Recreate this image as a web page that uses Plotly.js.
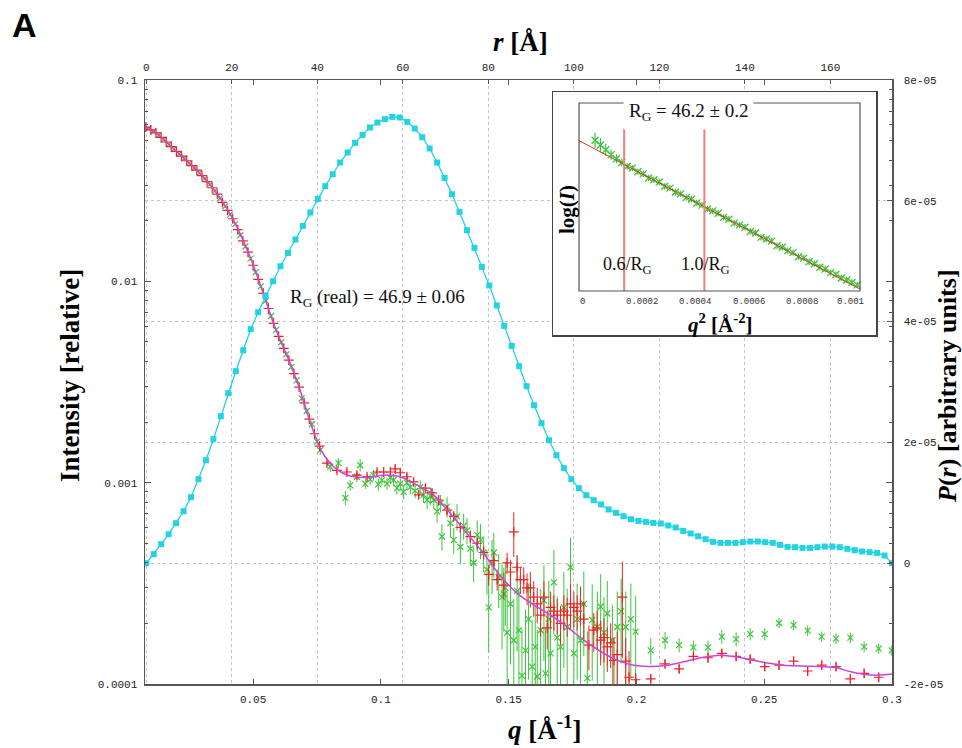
<!DOCTYPE html>
<html><head><meta charset="utf-8">
<script src="https://cdn.plot.ly/plotly-3.0.1.min.js"></script>
<style>html,body{margin:0;padding:0;background:#fff}#chart{width:962px;height:748px}</style>
</head><body><div id="chart"></div>
<script>
// ---------- Scattering data (q in 1/Å, intensity relative) ----------
const redQLow = [0.008,0.010,0.012,0.014,0.016,0.018,0.020,0.022,0.024,0.026,0.028,0.030,0.032,0.034,0.036,0.038,0.040,0.042,0.044,0.046,0.048,0.050,0.052,0.054,0.056,0.058,0.060,0.062,0.064,0.066,0.068,0.070,0.072,0.074,0.076];
const redILow = [0.05834,0.05649,0.05458,0.05188,0.04920,0.04667,0.04416,0.04188,0.03972,0.03758,0.03565,0.03350,0.03126,0.02917,0.02710,0.02466,0.02249,0.02046,0.01807,0.01589,0.01396,0.01202,0.01023,0.00871,0.00733,0.00618,0.00533,0.00465,0.00406,0.00348,0.00298,0.00249,0.00207,0.00175,0.00152];
const redRelLow = [0.01,0.01,0.01,0.01,0.01,0.01,0.01,0.01,0.01,0.01,0.01,0.01,0.01,0.01,0.01,0.01,0.01,0.01,0.01,0.01,0.015,0.015,0.015,0.015,0.015,0.015,0.015,0.015,0.02,0.02,0.02,0.02,0.02,0.02,0.02];

const redQMid = [0.0789,0.0828,0.0867,0.0906,0.0946,0.0985,0.1011,0.1037,0.1056,0.1076,0.1102,0.1128,0.1148,0.1174,0.1200,0.1226,0.1259,0.1285,0.1311,0.1350,0.1377,0.1402,0.1422,0.1442,0.1455,0.1481,0.1494,0.1507,0.1520,0.1533,0.1546,0.1559,0.1572,0.1585,0.1598,0.1612,0.1625,0.1638,0.1651,0.1664,0.1677,0.1690,0.1703,0.1716,0.1729,0.1742,0.1755,0.1768,0.1781,0.1794,0.1814,0.1833,0.1846,0.1860,0.1873,0.1886,0.1899,0.1912,0.1925,0.1945,0.1958,0.1971,0.1997];
const redIMid = [0.00125,0.00115,0.00113,0.00109,0.00107,0.00113,0.00113,0.00113,0.00117,0.00112,0.00107,0.00101,0.00087,0.00094,0.00089,0.00082,0.00073,0.00068,0.00060,0.00054,0.00050,0.00045,0.00035,0.00041,0.00033,0.00031,0.00040,0.00036,0.00057,0.00038,0.00033,0.00033,0.00030,0.00030,0.00027,0.00025,0.00022,0.00027,0.00019,0.00024,0.00023,0.00022,0.00020,0.00023,0.00022,0.00025,0.00024,0.00023,0.00025,0.00021,0.000156,0.000185,0.00019,0.000165,0.00017,0.000153,0.00016,0.000131,0.00014,0.00027,0.00013,0.000108,0.000105];
const redRelMid = [0.03,0.03,0.03,0.03,0.03,0.03,0.03,0.03,0.04,0.035,0.035,0.04,0.05,0.04,0.045,0.05,0.05,0.06,0.06,0.07,0.07,0.08,0.12,0.1,0.12,0.15,0.12,0.15,0.25,0.15,0.15,0.15,0.18,0.2,0.2,0.2,0.22,0.2,0.22,0.2,0.2,0.2,0.22,0.2,0.22,0.25,0.2,0.2,0.22,0.22,0.25,0.22,0.22,0.25,0.25,0.25,0.25,0.3,0.3,0.5,0.3,0.35,0.08];

const redQHigh = [0.2056,0.2112,0.2167,0.2223,0.2280,0.2334,0.2390,0.2445,0.2502,0.2558,0.2615,0.2670,0.2725,0.2781,0.2837,0.2891,0.2948];
const redIHigh = [0.000106,0.000126,0.000119,0.000137,0.000135,0.000142,0.000137,0.000133,0.000122,0.000124,0.000130,0.000116,0.000124,0.000122,0.000106,0.000113,0.000108];
const redRelHigh = [0.05,0.05,0.05,0.05,0.05,0.05,0.05,0.05,0.05,0.05,0.05,0.05,0.05,0.05,0.05,0.05,0.05];

const greenQLow = [0.009,0.011,0.013,0.015,0.017,0.019,0.021,0.023,0.025,0.027,0.029,0.031,0.033,0.035,0.037,0.039,0.041,0.043,0.045,0.047,0.049,0.051,0.053,0.055,0.057,0.059,0.061,0.063,0.065,0.067,0.069,0.071,0.073,0.075];
const greenILow = [0.05741,0.05552,0.05321,0.05052,0.04792,0.04539,0.04300,0.04078,0.03864,0.03660,0.03454,0.03236,0.03020,0.02812,0.02585,0.02355,0.02145,0.01923,0.01694,0.01489,0.01296,0.01109,0.00944,0.00799,0.00673,0.00574,0.00498,0.00434,0.00376,0.00322,0.00262,0.00227,0.00195,0.00160];
const greenRelLow = [0.015,0.015,0.015,0.015,0.015,0.015,0.015,0.015,0.015,0.015,0.015,0.015,0.015,0.015,0.015,0.015,0.015,0.02,0.02,0.02,0.02,0.02,0.02,0.025,0.025,0.025,0.025,0.03,0.03,0.03,0.035,0.035,0.04,0.04];

const greenQMid = [0.0763,0.0802,0.0834,0.0861,0.0880,0.0906,0.0919,0.0939,0.0958,0.0971,
 0.0990,0.1004,0.1024,0.1037,0.1050,0.1063,0.1076,0.1089,0.1102,0.1115,
 0.1134,0.1154,0.1167,0.1181,0.1194,0.1207,0.1220,0.1233,0.1239,0.1259,
 0.1272,0.1285,0.1298,0.1311,0.1324,0.1337,0.1350,0.1363,0.1377,0.1390,
 0.1402,0.1415,0.1422,0.1435,0.1442,0.1461,0.1474,0.1481,0.1487,0.1494,
 0.1507,0.1520,0.1533,0.1540,0.1552,0.1566,0.1578,0.1592,0.1604,0.1612,
 0.1625,0.1638,0.1644,0.1657,0.1664,0.1677,0.1690,0.1703,0.1716,0.1729,
 0.1742,0.1755,0.1768,0.1781,0.1794,0.1808,0.1827,0.1847,0.1860,0.1873,
 0.1886,0.1906,0.1925,0.1940,0.1958,0.1978,0.1997];
const greenIMid = [0.00145,0.00120,0.00125,0.00084,0.00097,0.00107,0.00122,0.00099,0.00104,0.00109,
 0.00098,0.00103,0.00099,0.00106,0.00103,0.00094,0.00099,0.00090,0.00100,0.00095,
 0.00091,0.00095,0.00087,0.00082,0.00086,0.00082,0.00072,0.00079,0.00054,0.00076,
 0.00063,0.00052,0.00068,0.00048,0.00061,0.00058,0.00047,0.00040,0.00055,0.00052,
 0.00045,0.00037,0.00024,0.00040,0.00045,0.00034,0.00027,0.00028,0.00030,0.00018,
 0.00025,0.000165,0.00029,0.000185,0.00011,0.000147,0.00021,0.000122,0.000153,0.000109,
 0.000185,0.00026,0.000113,0.00021,0.000142,0.00032,0.00017,0.000153,0.00024,0.000192,
 0.00038,0.000142,0.00021,0.000165,0.00025,0.000107,0.000208,0.000192,0.000242,0.00018,
 0.000224,0.000165,0.000192,0.00023,0.000192,0.00021,0.000182];
const greenRelMid = [0.05,0.06,0.06,0.08,0.06,0.06,0.07,0.06,0.06,0.06,
 0.07,0.06,0.07,0.07,0.07,0.07,0.08,0.08,0.08,0.08,
 0.08,0.08,0.09,0.1,0.1,0.1,0.12,0.1,0.15,0.12,
 0.15,0.15,0.15,0.18,0.15,0.15,0.18,0.2,0.18,0.2,
 0.2,0.25,0.4,0.3,0.25,0.3,0.45,0.35,0.35,0.6,
 0.5,0.6,0.5,0.6,0.7,0.6,0.5,0.7,0.6,0.7,
 0.6,0.5,0.7,0.55,0.6,0.45,0.6,0.6,0.5,0.55,
 0.4,0.6,0.5,0.55,0.45,0.7,0.5,0.5,0.45,0.5,
 0.45,0.5,0.5,0.45,0.5,0.5,0.5];

const greenQHigh = [0.2056,0.2112,0.2167,0.2223,0.2280,0.2334,0.2390,0.2445,0.2502,0.2558,0.2615,0.2670,0.2725,0.2781,0.2837,0.2891,0.2948,0.2999];
const greenIHigh = [0.000147,0.000165,0.000156,0.000152,0.000152,0.000172,0.000167,0.000177,0.000177,0.000201,0.000196,0.000184,0.000172,0.000168,0.000170,0.000153,0.000150,0.000147];
const greenRelHigh = [0.15,0.1,0.08,0.08,0.08,0.08,0.08,0.07,0.07,0.06,0.06,0.06,0.06,0.06,0.06,0.06,0.06,0.06];

// Fitted intensity curve
const fitQ = [0.0077,0.0123,0.0201,0.0292,0.0358,0.0423,0.0488,0.0540,0.0580,0.0606,0.0645,0.0684,0.0717,0.0750,0.0776,0.0815,0.0854,0.0880,0.0946,0.1011,0.1076,0.1141,0.1207,0.1272,0.1337,0.1402,0.1468,0.1533,0.1598,0.1664,0.1729,0.1794,0.1860,0.1925,0.1990,0.2056,0.2121,0.2186,0.2252,0.2330,0.2395,0.2447,0.2513,0.2578,0.2643,0.2709,0.2774,0.2839,0.2905,0.2970,0.3000];
const fitI = [0.0586,0.0543,0.0441,0.0344,0.0274,0.0202,0.01325,0.00871,0.00618,0.00511,0.00392,0.00288,0.00212,0.00162,0.00138,0.00120,0.00111,0.00108,0.00106,0.00109,0.00107,0.000972,0.000867,0.000703,0.00056,0.000445,0.000344,0.000282,0.000247,0.00022,0.000192,0.000165,0.000145,0.000131,0.000124,0.000122,0.000124,0.000129,0.000135,0.000139,0.000136,0.000132,0.000127,0.000124,0.000123,0.000122,0.000121,0.000115,0.000111,0.000111,0.000112];

// ---------- Pair distance distribution P(r) ----------
const prR = [0,1.74,3.49,5.23,6.98,8.72,10.46,12.21,13.95,15.70,17.44,19.18,20.93,22.67,24.42,26.16,27.90,29.65,31.39,33.14,34.88,36.62,38.37,40.11,41.86,43.60,45.34,47.09,48.83,50.58,52.32,54.06,55.81,57.55,59.30,61.04,62.78,64.53,66.27,68.02,69.76,71.50,73.25,74.99,76.74,78.48,80.22,81.97,83.71,85.46,87.20,88.94,90.69,92.43,94.18,95.92,97.66,99.41,101.15,102.90,104.64,106.38,108.13,109.87,111.62,113.36,115.10,116.85,118.59,120.34,122.08,123.82,125.57,127.31,129.06,130.80,132.54,134.29,136.03,137.78,139.52,141.26,143.01,144.75,146.50,148.24,149.98,151.73,153.47,155.22,156.96,158.70,160.45,162.19,163.94,165.68,167.42,169.17,170.91,172.66,174.40];
// P(r) in units of 1e-5
const prP = [0,0.149,0.315,0.480,0.662,0.861,1.093,1.391,1.705,2.053,
 2.434,2.815,3.179,3.526,3.874,4.156,4.421,4.669,4.917,5.137,
 5.359,5.584,5.806,6.031,6.242,6.440,6.634,6.800,6.959,7.091,
 7.214,7.296,7.351,7.389,7.379,7.306,7.197,7.053,6.866,6.634,
 6.379,6.109,5.816,5.513,5.220,4.906,4.598,4.267,3.929,3.598,
 3.262,2.930,2.616,2.318,2.036,1.788,1.573,1.391,1.242,1.126,
 1.043,0.972,0.889,0.833,0.778,0.728,0.700,0.684,0.667,0.657,
 0.624,0.591,0.535,0.492,0.447,0.397,0.353,0.336,0.336,0.336,
 0.348,0.359,0.359,0.348,0.336,0.303,0.270,0.265,0.253,0.253,
 0.265,0.276,0.276,0.265,0.237,0.215,0.194,0.182,0.171,0.127,
 0];

// ---------- Guinier inset ----------
const insetQ2 = [0.00006,0.00008,0.00010,0.00012,0.00014,0.00016,0.00018,0.00020,0.00022,0.00024,0.00026,0.00028,0.00030,0.00032,0.00034,0.00036,0.00038,0.00040,0.00042,0.00044,0.00046,0.00048,0.00050,0.00052,0.00054,0.00056,0.00058,0.00060,0.00062,0.00064,0.00066,0.00068,0.00070,0.00072,0.00074,0.00076,0.00078,0.00080,0.00082,0.00084,0.00086,0.00088,0.00090,0.00092,0.00094,0.00096,0.00098,0.00100,0.00102,0.00104];
const insetLnI = [-2.798,-2.822,-2.846,-2.871,-2.892,-2.911,-2.931,-2.939,-2.957,-2.968,-2.989,-2.998,-3.009,-3.031,-3.040,-3.061,-3.069,-3.088,-3.096,-3.115,-3.126,-3.146,-3.155,-3.167,-3.188,-3.197,-3.217,-3.227,-3.238,-3.259,-3.267,-3.289,-3.297,-3.308,-3.331,-3.339,-3.356,-3.366,-3.387,-3.394,-3.412,-3.422,-3.440,-3.449,-3.467,-3.477,-3.494,-3.504,-3.517,-3.529];
const insetErr = [0.038,0.034,0.03,0.026,0.022,0.019,0.016,0.016,0.016,0.016,0.016,0.016,0.016,0.016,0.016,0.016,0.016,0.016,0.016,0.016,0.016,0.016,0.016,0.016,0.016,0.016,0.016,0.016,0.016,0.016,0.016,0.016,0.016,0.016,0.016,0.016,0.016,0.016,0.016,0.016,0.016,0.016,0.016,0.016,0.016,0.016,0.016,0.016,0.016,0.016];
const guinierQ2 = [0, 0.00105];
const guinierLnI = [-2.80, -3.55];
const limitQ2 = [0.0001687, 0.0004685];   // (0.6/Rg)^2 and (1.0/Rg)^2
const limitLabels = ['0.6/R<sub>G</sub>', '1.0/R<sub>G</sub>'];
const insetTickVals = [0, 0.0002, 0.0004, 0.0006, 0.0008, 0.001];
const insetTickText = ['0', '0.0002', '0.0004', '0.0006', '0.0008', '0.001'];

// tick labels
const qTicks = [0.05, 0.1, 0.15, 0.2, 0.25, 0.3];
const qTickText = ['0.05', '0.1', '0.15', '0.2', '0.25', '0.3'];
const iTicks = [0.0001, 0.001, 0.01, 0.1];
const iTickText = ['0.0001', '0.001', '0.01', '0.1'];
const rTicks = [0, 20, 40, 60, 80, 100, 120, 140, 160];
const pTicks = [-2e-5, 0, 2e-5, 4e-5, 6e-5, 8e-5];
const pTickText = ['-2e-05', '0', '2e-05', '4e-05', '6e-05', '8e-05'];

// ---------- build ----------
const RED = '#ee2222', GREEN = '#3cc43c', MAG = '#cc44dd', CYAN = '#22d3e2', AX = '#555555';
const redQ = redQLow.concat(redQMid, redQHigh);
const redI = redILow.concat(redIMid, redIHigh);
const redRel = redRelLow.concat(redRelMid, redRelHigh);
const greenQ = greenQLow.concat(greenQMid, greenQHigh);
const greenI = greenILow.concat(greenIMid, greenIHigh);
const greenRel = greenRelLow.concat(greenRelMid, greenRelHigh);
const redErr = redI.map((v, i) => v * redRel[i]);
const greenErr = greenI.map((v, i) => v * greenRel[i]);
const prPabs = prP.map(v => v * 1e-5);

// inset geometry (layout only)
const insetYBottom = -3.56, insetYTop = -2.61, insetXR = 0.00105;
const limX = [], limY = [];
limitQ2.forEach(q => { limX.push(q, q, null); limY.push(insetYBottom, -2.735, null); });

const traces = [
  { x: greenQ, y: greenI, type: 'scatter', mode: 'markers', xaxis: 'x', yaxis: 'y',
    marker: { symbol: 'x-thin', size: 6, color: GREEN, line: { color: GREEN, width: 1.2 } },
    error_y: { type: 'data', array: greenErr, visible: true, color: GREEN, thickness: 1, width: 0 } },
  { x: redQ, y: redI, type: 'scatter', mode: 'markers', xaxis: 'x', yaxis: 'y',
    marker: { symbol: 'cross-thin', size: 7, color: RED, line: { color: RED, width: 1.2 } },
    error_y: { type: 'data', array: redErr, visible: true, color: RED, thickness: 1, width: 0 } },
  { x: fitQ, y: fitI, type: 'scatter', mode: 'lines', xaxis: 'x', yaxis: 'y',
    line: { color: MAG, width: 1.5, shape: 'spline', smoothing: 0.8 } },
  { x: prR, y: prPabs, type: 'scatter', mode: 'lines+markers', xaxis: 'x2', yaxis: 'y2',
    line: { color: CYAN, width: 1.3 }, marker: { symbol: 'square', size: 6, color: CYAN } },
  // inset
  { x: insetQ2, y: insetLnI, type: 'scatter', mode: 'markers', xaxis: 'x3', yaxis: 'y3',
    marker: { symbol: 'x-thin', size: 7, color: GREEN, line: { color: GREEN, width: 1.3 } },
    error_y: { type: 'data', array: insetErr, visible: true, color: GREEN, thickness: 1.2, width: 0 } },
  { x: guinierQ2, y: guinierLnI, type: 'scatter', mode: 'lines', xaxis: 'x3', yaxis: 'y3',
    line: { color: '#d23a1e', width: 1 } },
  { x: limX, y: limY, type: 'scatter', mode: 'lines', xaxis: 'x3', yaxis: 'y3',
    line: { color: '#f07c7c', width: 2 } }
];

const PL = 145, PR = 892, PT = 80, PB = 684;
const px = x => (x - PL) / (PR - PL);
const py = y => (PB - y) / (PB - PT);
const tickFont = { family: 'Liberation Mono, Courier New, monospace', size: 11, color: '#222' };
const serif = 'Liberation Serif, Times New Roman, serif';

function note(text, xPix, yPix, size, extra) {
  return Object.assign({ text: text, x: px(xPix), y: py(yPix), xref: 'paper', yref: 'paper',
    xanchor: 'center', yanchor: 'middle', showarrow: false,
    font: { family: serif, size: size, color: '#000' } }, extra || {});
}

const annotations = [
  note('<b>A</b>', 24, 25, 34, { font: { family: 'Liberation Sans, Arial, sans-serif', size: 34, color: '#000' } }),
  note('<b><i>r</i> [Å]</b>', 520, 42, 27),
  note('<b><i>q</i> [Å<sup>-1</sup>]</b>', 545, 728, 27),
  note('<b>Intensity [relative]</b>', 70, 376, 27, { textangle: -90 }),
  note('<b><i>P</i>(<i>r</i>) [arbitrary units]</b>', 947, 386, 26, { textangle: -90 }),
  note('R<sub>G</sub> (real) = 46.9 ± 0.06', 377, 298, 19, { font: { family: serif, size: 19, color: '#111' } }),
  // inset texts
  note('R<sub>G</sub> = 46.2 ± 0.2', 688, 112, 19, { bgcolor: '#ffffff', borderpad: 5, font: { family: serif, size: 19, color: '#111' } }),
  note('<b>log(<i>I</i>)</b>', 567, 210, 21, { textangle: -90 }),
  note('<b><i>q</i><sup>2</sup> [Å<sup>-2</sup>]</b>', 720, 323, 21),
  note(limitLabels[0], 627, 265, 18, { font: { family: serif, size: 18, color: '#111' } }),
  note(limitLabels[1], 705, 265, 18, { font: { family: serif, size: 18, color: '#111' } })
];
const insetTickShift = [3, 9, 9, 9, 9, 4];
insetTickVals.forEach((v, i) => annotations.push({
  text: insetTickText[i], x: v, y: -3.6156, xref: 'x3', yref: 'y3', xanchor: 'center', yanchor: 'middle',
  xshift: insetTickShift[i], showarrow: false,
  font: { family: 'Liberation Mono, Courier New, monospace', size: 9, color: '#333' }
}));

const minorLog = [];
[1e-4, 1e-3, 1e-2].forEach(d => { for (let k = 2; k <= 9; k++) minorLog.push(d * k); });

const layout = {
  width: 962, height: 748,
  margin: { l: PL, r: 962 - PR, t: PT, b: 748 - PB, pad: 0 },
  paper_bgcolor: '#ffffff', plot_bgcolor: '#ffffff',
  showlegend: false,
  font: { family: serif, color: '#222' },
  xaxis: {
    type: 'linear', range: [0.0077, 0.3], domain: [0, 1], anchor: 'y',
    tickmode: 'array', tickvals: qTicks, ticktext: qTickText,
    ticks: 'inside', ticklen: 5, tickcolor: AX, tickwidth: 1,
    showline: true, linecolor: AX, linewidth: 1.5, mirror: 'ticks',
    showgrid: false, zeroline: false, tickfont: tickFont, ticklabelstandoff: 4
  },
  yaxis: {
    type: 'log', range: [-4, -1], domain: [0, 1], anchor: 'x',
    tickmode: 'array', tickvals: iTicks, ticktext: iTickText,
    ticks: 'inside', ticklen: 6, tickcolor: AX,
    minor: { tickmode: 'array', tickvals: minorLog, ticks: 'inside', ticklen: 3, tickcolor: AX, showgrid: false },
    showline: true, linecolor: AX, linewidth: 1.5, mirror: 'ticks',
    showgrid: false, zeroline: false, tickfont: tickFont, ticklabelstandoff: 4
  },
  xaxis2: {
    overlaying: 'x', side: 'top', anchor: 'y2', range: [-0.3, 174.4],
    tickmode: 'array', tickvals: rTicks, ticks: 'inside', ticklen: 4, tickcolor: AX,
    showline: true, linecolor: AX, linewidth: 1.5,
    showgrid: true, gridcolor: '#c4c4c4', griddash: 'dot', gridwidth: 1,
    zeroline: false, tickfont: tickFont, ticklabelstandoff: 3
  },
  yaxis2: {
    overlaying: 'y', side: 'right', anchor: 'x2', range: [-2e-5, 8e-5],
    tickmode: 'array', tickvals: pTicks, ticktext: pTickText,
    ticks: 'inside', ticklen: 5, tickcolor: AX,
    showline: true, linecolor: AX, linewidth: 1.5,
    showgrid: true, gridcolor: '#c4c4c4', griddash: 'dot', gridwidth: 1,
    zeroline: false, tickfont: tickFont, ticklabelstandoff: 8
  },
  xaxis3: {
    domain: [px(553), px(876)], anchor: 'y3', range: [-0.0000972, 0.0011098],
    showline: true, mirror: true, linecolor: '#444', linewidth: 1.5,
    showticklabels: false, ticks: '', showgrid: false, zeroline: false
  },
  yaxis3: {
    domain: [py(335), py(92)], anchor: 'x3', range: [-3.7823, -2.5544],
    showline: true, mirror: true, linecolor: '#444', linewidth: 1.5,
    showticklabels: false, ticks: '', showgrid: false, zeroline: false
  },
  shapes: [
    { type: 'rect', xref: 'x3 domain', yref: 'y3 domain', x0: 0, x1: 1, y0: 0, y1: 1,
      fillcolor: '#ffffff', line: { width: 0 }, layer: 'below' },
    { type: 'rect', xref: 'x3', yref: 'y3', x0: 0, x1: insetXR, y0: insetYBottom, y1: insetYTop,
      fillcolor: 'rgba(0,0,0,0)', line: { color: '#555', width: 1.2 }, layer: 'above' }
  ],
  annotations: annotations
};

Plotly.newPlot('chart', traces, layout, { displayModeBar: false, staticPlot: true });
</script></body></html>
